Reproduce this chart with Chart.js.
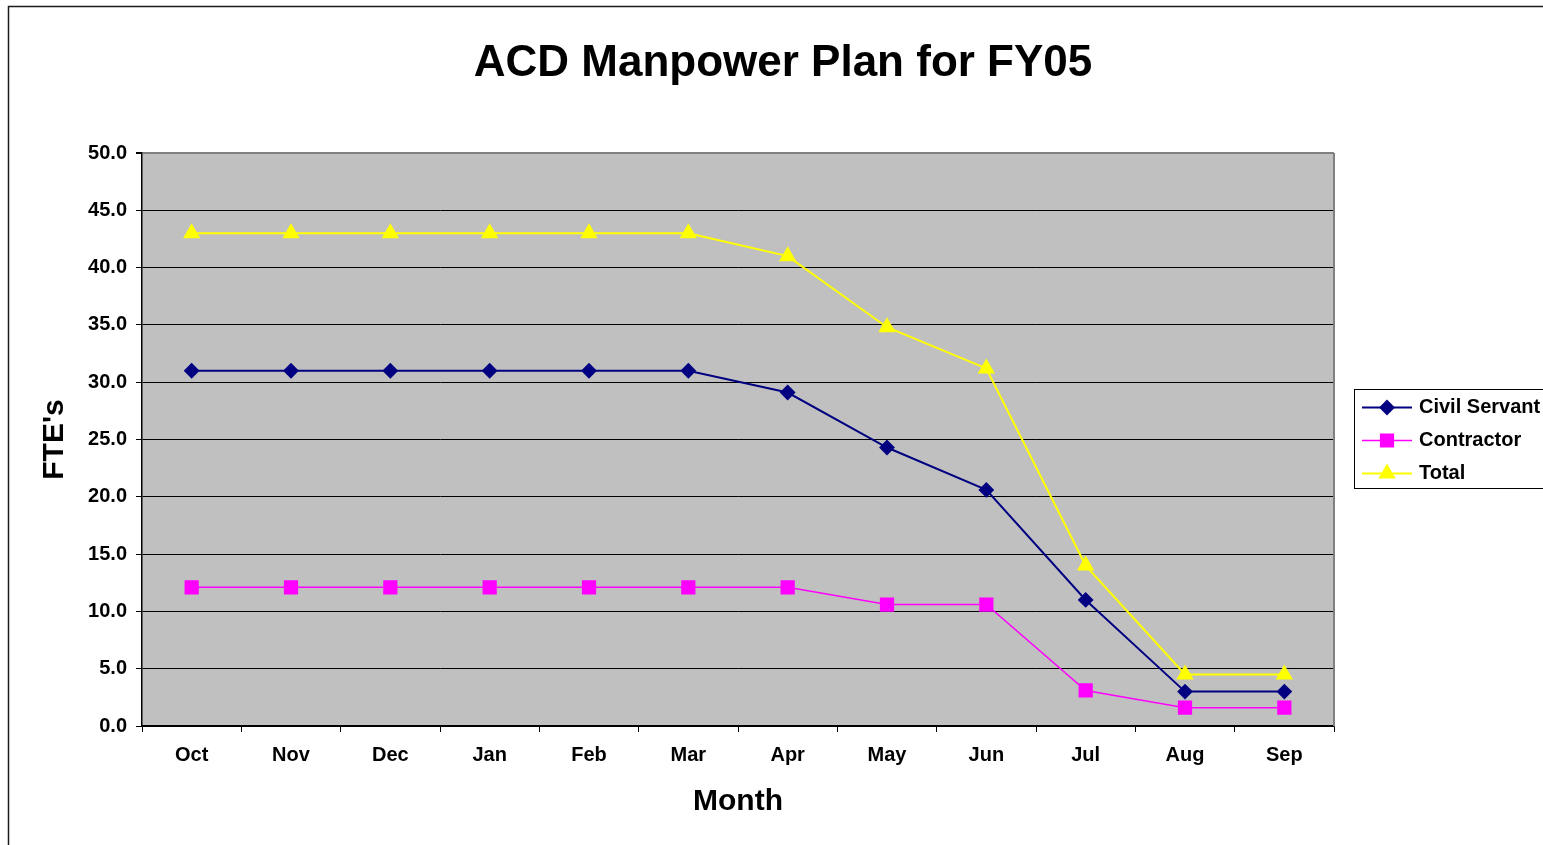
<!DOCTYPE html>
<html>
<head>
<meta charset="utf-8">
<title>ACD Manpower Plan for FY05</title>
<script src="https://cdn.jsdelivr.net/npm/chart.js@4/dist/chart.umd.min.js"></script>
<style>
  html, body { margin: 0; padding: 0; background: #fff; }
  #wrap { width: 1543px; height: 845px; }
</style>
</head>
<body>
<div id="wrap"><canvas id="manpowerChart"></canvas></div>
<script>
const months = ['Oct', 'Nov', 'Dec', 'Jan', 'Feb', 'Mar', 'Apr', 'May', 'Jun', 'Jul', 'Aug', 'Sep'];
const civilServant = [31, 31, 31, 31, 31, 31, 29.1, 24.3, 20.6, 11, 3, 3];
const contractor = [12.1, 12.1, 12.1, 12.1, 12.1, 12.1, 12.1, 10.6, 10.6, 3.1, 1.6, 1.6];
const total = [43, 43, 43, 43, 43, 43, 41, 34.8, 31.2, 14, 4.5, 4.5];
const yTicks = [0, 5, 10, 15, 20, 25, 30, 35, 40, 45, 50];

const FONT = "'Liberation Sans', Arial, sans-serif";

// grey plot area, white page, outer frame
const backdrop = {
  id: 'backdrop',
  beforeDraw(chart) {
    const ctx = chart.ctx;
    const a = chart.chartArea;
    ctx.save();
    ctx.fillStyle = '#fff';
    ctx.fillRect(0, 0, chart.width, chart.height);
    ctx.fillStyle = '#c0c0c0';
    ctx.fillRect(a.left, a.top, a.right - a.left, a.bottom - a.top);
    ctx.restore();
  },
  afterDraw(chart) {
    const ctx = chart.ctx;
    const a = chart.chartArea;
    ctx.save();
    // right edge of the plot
    ctx.strokeStyle = '#808080';
    ctx.lineWidth = 2;
    ctx.beginPath();
    ctx.moveTo(a.right, a.top);
    ctx.lineTo(a.right, a.bottom);
    ctx.stroke();
    // frame around the whole chart
    ctx.strokeStyle = '#1a1a1a';
    ctx.lineWidth = 1.5;
    ctx.strokeRect(8.5, 6.5, chart.width + 20, chart.height + 20);
    // title
    ctx.fillStyle = '#000';
    ctx.font = 'bold 44px ' + FONT;
    ctx.textAlign = 'center';
    ctx.textBaseline = 'middle';
    ctx.fillText('ACD Manpower Plan for FY05', 783, 64);
    ctx.restore();
  }
};

// boxed legend on the right
const boxLegend = {
  id: 'boxLegend',
  afterDraw(chart) {
    const ctx = chart.ctx;
    const x = 1354.5, y = 389.5, rowH = 33;
    ctx.save();
    ctx.fillStyle = '#fff';
    ctx.fillRect(x, y, 250, 99);
    ctx.strokeStyle = '#000';
    ctx.lineWidth = 1;
    ctx.strokeRect(x, y, 250, 99);
    chart.data.datasets.forEach((ds, i) => {
      const cy = y + 18 + i * rowH;
      ctx.strokeStyle = ds.borderColor;
      ctx.lineWidth = ds.borderWidth;
      ctx.beginPath();
      ctx.moveTo(1362, cy);
      ctx.lineTo(1412, cy);
      ctx.stroke();
      ctx.fillStyle = ds.pointBackgroundColor;
      ctx.strokeStyle = ds.pointBorderColor;
      Chart.helpers.drawPoint(ctx, {
        pointStyle: ds.pointStyle,
        radius: ds.pointRadius,
        rotation: 0,
        borderWidth: 1
      }, 1387, cy);
      ctx.fillStyle = '#000';
      ctx.font = 'bold 20px ' + FONT;
      ctx.textAlign = 'left';
      ctx.textBaseline = 'middle';
      ctx.fillText(ds.label, 1419, cy);
    });
    ctx.restore();
  }
};

function series(label, data, color, style, radius, width) {
  return {
    label: label,
    data: data,
    borderColor: color,
    backgroundColor: color,
    pointBackgroundColor: color,
    pointBorderColor: color,
    borderWidth: width,
    pointStyle: style,
    pointRadius: radius,
    pointHoverRadius: radius,
    tension: 0
  };
}

new Chart(document.getElementById('manpowerChart'), {
  type: 'line',
  data: {
    labels: months,
    datasets: [
      series('Civil Servant', civilServant, '#000080', 'rectRot', 6.5, 2),
      series('Contractor', contractor, '#ff00ff', 'rect', 9, 1.5),
      series('Total', total, '#ffff00', 'triangle', 8, 2)
    ]
  },
  options: {
    responsive: true,
    maintainAspectRatio: false,
    animation: false,
    layout: { padding: { top: 153, right: 209, left: 0, bottom: 0 } },
    plugins: {
      legend: { display: false },
      title: { display: false },
      tooltip: { enabled: false }
    },
    scales: {
      x: {
        offset: true,
        afterFit(scale) { scale.height = 119; },
        grid: {
          offset: true,
          drawOnChartArea: false,
          drawTicks: true,
          tickLength: 6,
          tickColor: '#000',
          lineWidth: 1
        },
        border: { color: '#000', width: 1.5 },
        ticks: {
          color: '#000',
          font: { family: FONT, size: 20, weight: 'bold' },
          padding: 11,
          maxRotation: 0
        },
        title: {
          display: true,
          text: 'Month',
          color: '#000',
          font: { family: FONT, size: 30, weight: 'bold' },
          padding: { top: 0, bottom: 25 }
        }
      },
      y: {
        min: 0,
        max: 50,
        afterFit(scale) { scale.width = 142; },
        afterBuildTicks(scale) { scale.ticks = yTicks.map(v => ({ value: v })); },
        grid: {
          color: ctx => (ctx.tick && ctx.tick.value === 50) ? '#808080' : '#000',
          lineWidth: ctx => (ctx.tick && ctx.tick.value === 50) ? 2 : 1,
          tickColor: '#000',
          tickLength: 6
        },
        border: { color: '#000', width: 1.5 },
        ticks: {
          color: '#000',
          font: { family: FONT, size: 20, weight: 'bold' },
          padding: 9,
          callback: v => Number(v).toFixed(1)
        },
        title: {
          display: true,
          text: "FTE's",
          color: '#000',
          font: { family: FONT, size: 30, weight: 'bold' },
          padding: { top: 37, bottom: 0 }
        }
      }
    }
  },
  plugins: [backdrop, boxLegend]
});
</script>
</body>
</html>
